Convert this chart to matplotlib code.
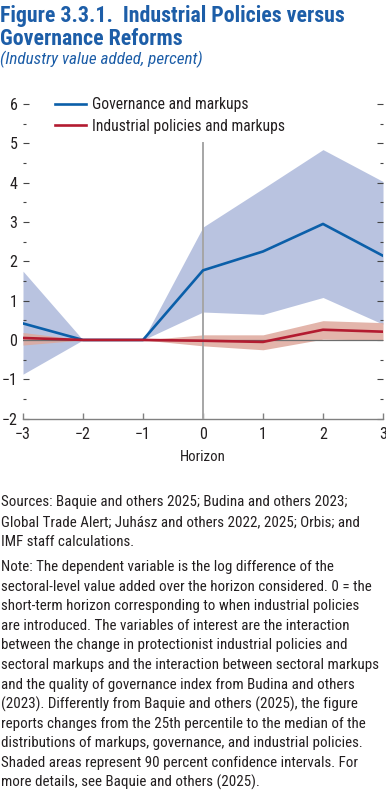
import matplotlib
matplotlib.use("Agg")
import matplotlib.pyplot as plt
from matplotlib import font_manager
from matplotlib.ticker import MultipleLocator, FixedLocator
import numpy as np

# ---------------- data ----------------
horizon = [-3, -2, -1, 0, 1, 2, 3]
gov = [0.42, 0.0, 0.0, 1.77, 2.25, 2.95, 2.14]
gov_hi = [1.75, 0.0, 0.0, 2.87, 3.85, 4.84, 4.03]
gov_lo = [-0.87, 0.0, 0.0, 0.71, 0.65, 1.08, 0.40]
ind = [0.05, 0.0, 0.0, -0.02, -0.05, 0.26, 0.21]
ind_hi = [0.19, 0.0, 0.0, 0.13, 0.13, 0.49, 0.44]
ind_lo = [-0.13, 0.0, 0.0, -0.15, -0.25, 0.02, 0.0]
series_names = ["Governance and markups", "Industrial policies and markups"]
y_ticks = [-2, -1, 0, 1, 2, 3, 4, 5, 6]
x_ticks = [-3, -2, -1, 0, 1, 2, 3]

title_lines = ["Figure 3.3.1.  Industrial Policies versus", "Governance Reforms"]
subtitle = "(Industry value added, percent)"
sources_lines = [
    "Sources: Baquie and others 2025; Budina and others 2023;",
    "Global Trade Alert; Juhász and others 2022, 2025; Orbis; and",
    "IMF staff calculations.",
]
note_lines = [
    "Note: The dependent variable is the log difference of the",
    "sectoral-level value added over the horizon considered. 0 = the",
    "short-term horizon corresponding to when industrial policies",
    "are introduced. The variables of interest are the interaction",
    "between the change in protectionist industrial policies and",
    "sectoral markups and the interaction between sectoral markups",
    "and the quality of governance index from Budina and others",
    "(2023). Differently from Baquie and others (2025), the figure",
    "reports changes from the 25th percentile to the median of the",
    "distributions of markups, governance, and industrial policies.",
    "Shaded areas represent 90 percent confidence intervals. For",
    "more details, see Baquie and others (2025).",
]

# ---------------- fonts ----------------
fl = font_manager.fontManager.ttflist
names = {f.name for f in fl}
stretch = "normal"
if "Liberation Sans Narrow" in names:
    fam = "Liberation Sans Narrow"
elif "Roboto Condensed" in names:
    fam = "Roboto Condensed"
elif any(f.name == "DejaVu Sans" and f.stretch in ("condensed", "semi-condensed") for f in fl):
    fam = "DejaVu Sans"
    stretch = "condensed"
else:
    fam = "Roboto"
plt.rcParams["font.family"] = [fam, "DejaVu Sans"]
plt.rcParams["font.stretch"] = stretch
plt.rcParams["axes.unicode_minus"] = True

W, H = 386, 794
fig = plt.figure(figsize=(W / 100, H / 100), dpi=100)

TITLE_C = "#1d5ea8"
TEXT_C = "#231f20"
BLUE = "#0b5fa9"
BLUE_BAND = "#b9c3e0"
RED = "#b31b30"
RED_BAND = "#dea89c"

def fy(px):
    return 1 - px / H

def fx(px):
    return px / W

renderer = fig.canvas.get_renderer()

def fit(t, target_px):
    w = t.get_window_extent(renderer=renderer).width
    t.set_fontsize(t.get_fontsize() * target_px / w)

# title
t1 = fig.text(fx(0), fy(16), title_lines[0], fontsize=15, fontweight="bold",
              color=TITLE_C, va="center", ha="left")
fit(t1, 345)
t2 = fig.text(fx(0), fy(39), title_lines[1], fontsize=t1.get_fontsize(), fontweight="bold",
              color=TITLE_C, va="center", ha="left")
t3 = fig.text(fx(0), fy(59), subtitle, fontsize=10, style="italic",
              color=TITLE_C, va="center", ha="left")
fit(t3, 203)

# axes
ax = fig.add_axes([fx(23), fy(418.6), fx(383) - fx(23), fy(104) - fy(418.6)])
ax.set_xlim(-3, 3)
ax.set_ylim(-2, 6)

ax.fill_between(horizon, gov_lo, gov_hi, color=BLUE_BAND, lw=0, zorder=1)
ax.fill_between(horizon, ind_lo, ind_hi, color=RED_BAND, alpha=0.85, lw=0, zorder=2)
ax.axhline(0, color="#6d6d6d", lw=0.9, zorder=3)
ax.plot([0, 0], [-2, 5], color="#a6a6a6", lw=1.4, zorder=3)
l1, = ax.plot(horizon, gov, color=BLUE, lw=1.9, zorder=4, label=series_names[0])
l2, = ax.plot(horizon, ind, color=RED, lw=1.9, zorder=5, label=series_names[1])

for s in ["left", "right", "top"]:
    ax.spines[s].set_visible(False)
ax.spines["bottom"].set_color("#808080")
ax.spines["bottom"].set_linewidth(1.0)

ax.yaxis.set_major_locator(FixedLocator(y_ticks))
ax.yaxis.set_minor_locator(MultipleLocator(0.5))
ax.xaxis.set_major_locator(FixedLocator(x_ticks))
ax.set_yticklabels([("\u2212" + str(-v)) if v < 0 else str(v) for v in y_ticks])
ax.set_xticklabels([("\u2212" + str(-v)) if v < 0 else str(v) for v in x_ticks])

tick_fs = 11.5
ax.tick_params(axis="y", which="major", direction="in", length=4.5, width=0.8,
               color="#444444", left=True, right=True, labelsize=tick_fs,
               labelcolor=TEXT_C, pad=4)
ax.tick_params(axis="y", which="minor", direction="in", length=2.0, width=0.8,
               color="#444444", left=True, right=True)
ax.tick_params(axis="x", which="major", direction="in", length=4, width=1.0,
               color="#808080", labelsize=tick_fs, labelcolor=TEXT_C, pad=6)
for lab in ax.get_yticklabels():
    lab.set_horizontalalignment("right")

ax.set_xlabel("Horizon", fontsize=tick_fs * 0.92, color=TEXT_C, labelpad=6)

leg = ax.legend(handles=[l1, l2], loc="upper left",
                bbox_to_anchor=(fx(55 - 23) / (fx(383) - fx(23)), 1.022),
                frameon=False, fontsize=tick_fs * 0.98, handlelength=1.95, handletextpad=0.4,
                borderaxespad=0, borderpad=0, labelspacing=0.42)
for t in leg.get_texts():
    t.set_color(TEXT_C)

# footnotes
src_y = [502, 522, 542]
note_y0, note_dy = 567, 19.6
fs_note = 10
tt = []
for i, line in enumerate(sources_lines):
    tt.append(fig.text(fx(1), fy(src_y[i]), line, fontsize=fs_note, color=TEXT_C,
                       va="center", ha="left"))
for i, line in enumerate(note_lines):
    tt.append(fig.text(fx(1), fy(note_y0 + i * note_dy), line, fontsize=fs_note,
                       color=TEXT_C, va="center", ha="left"))
# fit to the widest line (sectoral markups ... markups) ~ 376 px
ref = tt[3 + 5]
w = ref.get_window_extent(renderer=renderer).width
scale = 375 / w
for t in tt:
    t.set_fontsize(fs_note * scale)

fig.savefig("out.png", dpi=100)
